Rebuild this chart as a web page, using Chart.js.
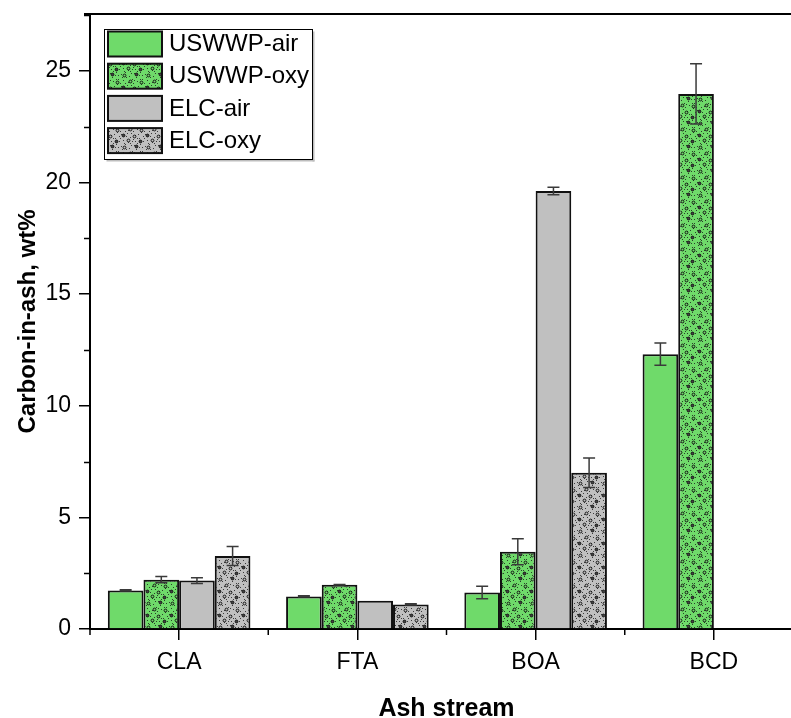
<!DOCTYPE html>
<html>
<head>
<meta charset="utf-8">
<script src="https://cdn.jsdelivr.net/npm/chart.js@4.4.1/dist/chart.umd.min.js"></script>
<style>
  html, body { margin: 0; padding: 0; overflow: hidden; background: #fff; }
  #wrap { width: 803px; height: 718px; position: relative; }
</style>
</head>
<body>
<div id="wrap"><canvas id="c" width="803" height="718"></canvas></div>
<script>
// Carbon-in-ash by ash stream, mean values with standard deviation
const categories = ['CLA', 'FTA', 'BOA', 'BCD'];
const seriesNames = ['USWWP-air', 'USWWP-oxy', 'ELC-air', 'ELC-oxy'];

const uswwpAir    = [1.73, 1.46, 1.63, 12.31];
const uswwpAirErr = [0.03, 0.03, 0.28, 0.50];
const uswwpOxy    = [2.21, 1.98, 3.46, 23.97];
const uswwpOxyErr = [0.14, 0.01, 0.58, 1.35];
const elcAir      = [2.17, 1.27, 19.62, null];
const elcAirErr   = [0.13, 0, 0.17, null];
const elcOxy      = [3.27, 1.10, 7.00, null];
const elcOxyErr   = [0.43, 0.03, 0.66, null];

const yTicks = [0, 5, 10, 15, 20, 25];
const yMinorTicks = [2.5, 7.5, 12.5, 17.5, 22.5, 27.5];

const GREEN = '#6fda6a';
const GREY = '#c0c0c0';
const FONT = "'Liberation Sans', Arial, sans-serif";

Chart.defaults.font.family = FONT;
Chart.defaults.color = '#000';

const canvas = document.getElementById('c');
const ctx = canvas.getContext('2d');

// Stippled fill: fine specks plus small rings on a base colour
function stipple(base) {
  const t = document.createElement('canvas');
  t.width = 24; t.height = 24;
  const g = t.getContext('2d');
  g.fillStyle = base;
  g.fillRect(0, 0, 24, 24);
  const specks = [[1,2],[5,0],[9,4],[14,1],[19,3],[22,7],[3,8],[8,10],[12,7],[17,9],
                  [21,12],[1,14],[6,16],[11,13],[15,15],[19,18],[23,21],[3,20],[8,22],
                  [13,19],[17,23],[10,17],[20,0],[6,5],[16,5],[0,11],[13,11],[4,23],
                  [11,1],[2,5],[18,14],[23,16],[7,13],[15,21],[22,3],[10,23],[0,18],
                  [14,8],[5,11],[20,7],[12,21],[17,18]];
  g.fillStyle = 'rgba(25,25,25,0.8)';
  specks.forEach(([x, y]) => g.fillRect(x, y, 1, 1));
  const rings = [[4,3],[16,2],[10,9],[21,10],[3,15],[14,16],[8,20],[20,21]];
  g.lineWidth = 1;
  rings.forEach(([x, y], i) => {
    g.beginPath();
    g.arc(x + 0.5, y + 0.5, 1.4, 0, Math.PI * 2);
    if (i % 3 === 1) { g.fillStyle = '#444'; g.fill(); }
    g.strokeStyle = '#151515';
    g.stroke();
  });
  return ctx.createPattern(t, 'repeat');
}

const fills = [GREEN, stipple(GREEN), GREY, stipple(GREY)];
const values = [uswwpAir, uswwpOxy, elcAir, elcOxy];
const errors = [uswwpAirErr, uswwpOxyErr, elcAirErr, elcOxyErr];

// Error bars drawn on top of each bar
const errorBars = {
  id: 'errorBars',
  afterDatasetsDraw(chart) {
    const y = chart.scales.y;
    const c = chart.ctx;
    c.save();
    c.strokeStyle = '#3a3a3a';
    c.lineWidth = 1.5;
    chart.data.datasets.forEach((ds, di) => {
      const meta = chart.getDatasetMeta(di);
      meta.data.forEach((bar, i) => {
        const v = ds.data[i];
        const e = ds.errors[i];
        if (v == null || e == null || e <= 0) return;
        const top = y.getPixelForValue(v + e);
        const bot = y.getPixelForValue(v - e);
        const x = bar.x;
        c.beginPath();
        c.moveTo(x, top); c.lineTo(x, bot);
        c.moveTo(x - 6, top); c.lineTo(x + 6, top);
        c.moveTo(x - 6, bot); c.lineTo(x + 6, bot);
        c.stroke();
      });
    });
    c.restore();
  }
};

// Minor ticks, top frame line and the boxed legend
const frame = {
  id: 'frame',
  afterDraw(chart) {
    const c = chart.ctx;
    const a = chart.chartArea;
    const y = chart.scales.y;
    const x = chart.scales.x;
    c.save();
    c.strokeStyle = '#000';
    c.lineWidth = 1.5;
    yMinorTicks.forEach(v => {
      const py = Math.round(y.getPixelForValue(v)) + 0.5;
      c.beginPath(); c.moveTo(a.left - 6, py); c.lineTo(a.left, py); c.stroke();
    });
    for (let i = 0; i <= categories.length; i++) {
      const px = x.getPixelForValue(i - 0.5);
      c.beginPath(); c.moveTo(px, a.bottom); c.lineTo(px, a.bottom + 6); c.stroke();
    }
    c.lineWidth = 2;
    c.beginPath(); c.moveTo(a.left - 6, a.top); c.lineTo(a.right, a.top); c.stroke();

    // legend
    const lx = 104.5, ly = 29.5, lw = 208, lh = 130;
    c.fillStyle = '#bdbdbd';
    c.fillRect(lx + 2, ly + lh, lw, 2);
    c.fillRect(lx + lw, ly + 2, 2, lh);
    c.fillStyle = '#fff';
    c.fillRect(lx, ly, lw, lh);
    c.lineWidth = 1;
    c.strokeStyle = '#000';
    c.strokeRect(lx, ly, lw, lh);
    c.font = '24px ' + FONT;
    c.textBaseline = 'middle';
    seriesNames.forEach((name, i) => {
      const sy = 31.5 + i * 32.2;
      c.fillStyle = fills[i];
      c.fillRect(108, sy, 54, 25);
      c.lineWidth = 2;
      c.strokeStyle = '#111';
      c.strokeRect(108, sy, 54, 25);
      c.fillStyle = '#000';
      c.fillText(name, 169, sy + 13);
    });
    c.restore();
  }
};

new Chart(canvas, {
  type: 'bar',
  data: {
    labels: categories,
    datasets: seriesNames.map((name, i) => ({
      label: name,
      data: values[i],
      errors: errors[i],
      backgroundColor: fills[i],
      borderColor: '#111',
      borderWidth: 2,
      borderSkipped: 'bottom',
      barPercentage: 1,
      categoryPercentage: 0.8
    }))
  },
  options: {
    responsive: false,
    animation: false,
    layout: { padding: { top: 14, right: 0, left: 0, bottom: 0 } },
    plugins: { legend: { display: false }, tooltip: { enabled: false } },
    scales: {
      x: {
        offset: true,
        grid: { offset: false, drawOnChartArea: false, drawTicks: true, tickLength: 11, color: '#000', lineWidth: 1.5 },
        border: { display: true, color: '#000', width: 2 },
        ticks: { font: { size: 23 }, color: '#000', padding: 9 },
        title: { display: true, text: 'Ash stream', font: { size: 25, weight: 'bold', lineHeight: 1 }, color: '#000', padding: { top: 0, bottom: -4 } },
        afterFit(s) { s.height = 89; s.paddingLeft = 0; s.paddingRight = 0; }
      },
      y: {
        min: 0,
        max: 27.55,
        afterBuildTicks(s) { s.ticks = yTicks.map(v => ({ value: v })); },
        grid: { drawOnChartArea: false, drawTicks: true, tickLength: 11, color: '#000', lineWidth: 1.5 },
        border: { display: true, color: '#000', width: 2 },
        ticks: { font: { size: 23, lineHeight: 1 }, color: '#000', padding: 8 },
        title: { display: true, text: 'Carbon-in-ash, wt%', font: { size: 24, weight: 'bold', lineHeight: 1 }, color: '#000', padding: { top: 16, bottom: 0 } },
        afterFit(s) { s.width = 90; s.paddingTop = 0; s.paddingBottom = 0; }
      }
    }
  },
  plugins: [errorBars, frame]
});
</script>
</body>
</html>
